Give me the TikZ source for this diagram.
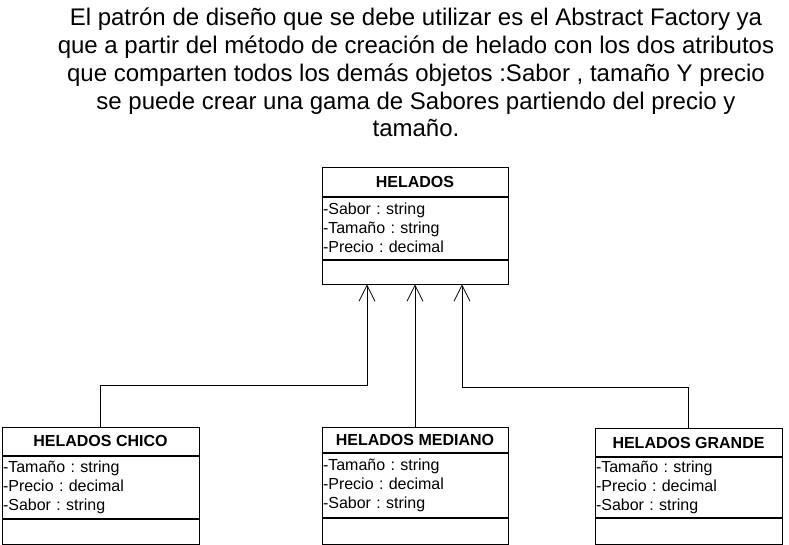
\documentclass[tikz,border=0pt]{standalone}
\usepackage{fontspec}
\setmainfont{Liberation Sans}
\usetikzlibrary{positioning,arrows.meta}
\frenchspacing

\tikzset{
  cname/.style={draw, line width=0.8pt, font=\fontsize{16}{19}\selectfont\bfseries, inner sep=0pt, align=center},
  cattr/.style={draw, line width=0.8pt, font=\fontsize{16}{19}\selectfont, inner xsep=1pt, inner ysep=0pt, align=left},
  cops/.style={draw, line width=0.8pt, inner sep=0pt},
  inh/.style={-{Straight Barb[length=16pt,width=16pt]}, line width=0.8pt},
}

\begin{document}
\begin{tikzpicture}[x=1pt,y=1pt]
    \useasboundingbox (0,0) rectangle (789,545);
    % Intro text
    \node[font=\fontsize{24}{27.8}\selectfont, align=center, inner sep=0pt, anchor=base] (intro) at (416,408)
      {El patrón de diseño que se debe utilizar es el Abstract Factory ya\\
       que a partir del método de creación de helado con los dos atributos\\
       que comparten todos los demás objetos :Sabor , tamaño Y precio\\
       se puede crear una gama de Sabores partiendo del precio y\\
       tamaño.};
    % Base class
    \node[cname, minimum width=186pt, minimum height=29pt, anchor=north] (htitle) at (415,378) {HELADOS};
    \node[cattr, text width=184pt, minimum height=62pt, below=0pt of htitle] (hattr)
      {-Sabor : string\\-Tamaño : string\\-Precio : decimal};
    \node[cops, minimum width=186pt, minimum height=24pt, below=0pt of hattr] (hops) {};
    % Subclasses
    \node[cname, minimum width=197pt, minimum height=28pt, anchor=north] (ctitle) at (100.5,118) {HELADOS CHICO};
    \node[cattr, text width=195pt, minimum height=62pt, below=0pt of ctitle] (cattr)
      {-Tamaño : string\\-Precio : decimal\\-Sabor : string};
    \node[cops, minimum width=197pt, minimum height=25pt, below=0pt of cattr] (cops) {};
    \node[cname, minimum width=186pt, minimum height=25pt, anchor=north] (mtitle) at (415,118) {HELADOS MEDIANO};
    \node[cattr, text width=184pt, minimum height=64pt, below=0pt of mtitle] (mattr)
      {-Tamaño : string\\-Precio : decimal\\-Sabor : string};
    \node[cops, minimum width=186pt, minimum height=26pt, below=0pt of mattr] (mops) {};
    \node[cname, minimum width=187pt, minimum height=28pt, anchor=north] (gtitle) at (688.5,116.5) {HELADOS GRANDE};
    \node[cattr, text width=185pt, minimum height=60pt, below=0pt of gtitle] (gattr)
      {-Tamaño : string\\-Precio : decimal\\-Sabor : string};
    \node[cops, minimum width=187pt, minimum height=26pt, below=0pt of gattr] (gops) {};
    % Inheritance
    \draw[inh] (ctitle.north) -- ++(0,42) -| ([xshift=-48pt]hops.south);
    \draw[inh] (mtitle.north) -- (hops.south);
    \draw[inh] (gtitle.north) -- ++(0,41.5) -| ([xshift=47pt]hops.south);
\end{tikzpicture}
\end{document}
